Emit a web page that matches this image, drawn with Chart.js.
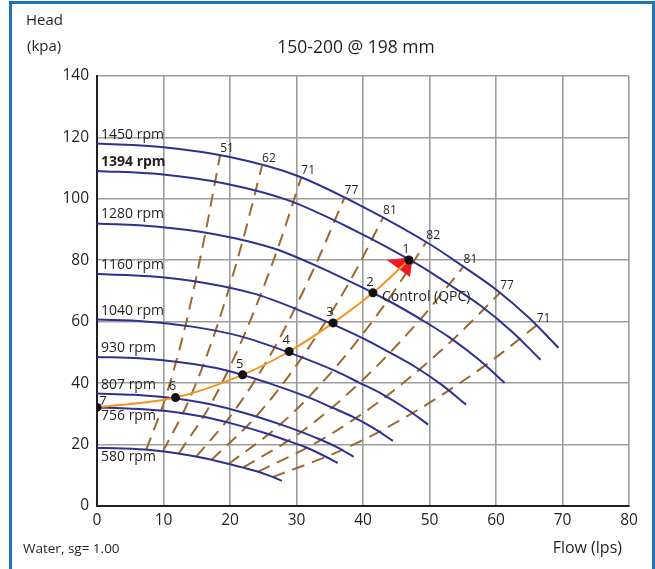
<!DOCTYPE html>
<html><head><meta charset="utf-8">
<script src="https://cdn.jsdelivr.net/npm/chart.js@4.4.1/dist/chart.umd.min.js"></script>
<style>
html,body{margin:0;padding:0;background:#fff;overflow:hidden}
#wrap{position:relative;width:655px;height:569px}
#frame{position:absolute;left:9px;top:1px;width:646px;height:620px;border:3px solid #1c75bc;box-sizing:border-box}
canvas{position:absolute;left:0;top:0}
</style></head>
<body><div id="wrap"><div id="frame"></div><canvas id="c" width="655" height="569"></canvas></div>
<script>
// ---- axis ticks ----
const flowTicks = [0,10,20,30,40,50,60,70,80];
const headTicks = [0,20,40,60,80,100,120,140];

// ---- pump curves (flow lps, head kPa) ----
const speeds = [1450,1394,1280,1160,1040,930,807,756,580];
const q1450 = [0,10,20,30,40,50,55,60,65,69.4];
const h1450 = [118,116.8,113.6,107.6,97.4,85.3,78.1,70.5,61.2,51.5];
const q1394 = [0,9.6,19.2,28.8,38.5,48.1,52.9,57.7,62.5,66.7];
const h1394 = [109.1,108.0,105.0,99.5,90.0,78.8,72.2,65.2,56.6,47.6];
const q1280 = [0,8.8,17.7,26.5,35.3,44.1,48.6,53.0,57.4,61.3];
const h1280 = [92.0,91.0,88.5,83.9,75.9,66.5,60.9,54.9,47.7,40.1];
const q1160 = [0,8,16,24,32,40,44,48,52,55.5];
const h1160 = [75.5,74.8,72.7,68.9,62.3,54.6,50.0,45.1,39.2,33.0];
const q1040 = [0,7.2,14.3,21.5,28.7,35.9,39.4,43.0,46.6,49.8];
const h1040 = [60.7,60.1,58.4,55.3,50.1,43.9,40.2,36.3,31.5,26.5];
const q930 = [0,6.4,12.8,19.2,25.7,32.1,35.3,38.5,41.7,44.5];
const h930 = [48.5,48.1,46.7,44.3,40.1,35.1,32.1,29.0,25.2,21.2];
const q807 = [0,5.6,11.1,16.7,22.3,27.8,30.6,33.4,36.2,38.6];
const h807 = [36.6,36.2,35.2,33.3,30.2,26.4,24.2,21.8,19.0,16.0];
const q756 = [0,5.2,10.4,15.6,20.9,26.1,28.7,31.3,33.9,36.2];
const h756 = [32.1,31.7,30.9,29.2,26.5,23.2,21.2,19.2,16.6,14.0];
const q580 = [0,4,8,12,16,20,22,24,26,27.8];
const h580 = [18.9,18.7,18.2,17.2,15.6,13.6,12.5,11.3,9.8,8.2];

// ---- iso-efficiency lines (%), bottom -> top ----
const effLabels = [51,62,71,77,81,82,81,77,71];
const effQ1 = [7.4,10.3,13.3,16.3,18.5];   const effH1 = [18.3,35.3,58.7,88.9,114.1];
const effQ2 = [9.9,13.8,17.8,21.9,24.8];   const effH2 = [17.7,34.3,56.9,86.3,110.7];
const effQ3 = [12.3,17.1,22.0,27.1,30.7];  const effH3 = [17.1,33.1,55.0,83.3,106.9];
const effQ4 = [14.9,20.7,26.7,32.8,37.2];  const effH4 = [16.0,31.1,51.6,78.2,100.3];
const effQ5 = [17.2,23.9,30.8,38.0,43.0];  const effH5 = [15.0,29.1,48.3,73.1,93.8];
const effQ6 = [19.8,27.6,35.5,43.7,49.5];  const effH6 = [13.7,26.6,44.2,66.9,85.9];
const effQ7 = [22.0,30.7,39.5,48.6,55.1];  const effH7 = [12.5,24.1,40.1,60.7,77.9];
const effQ8 = [24.2,33.7,43.5,53.5,60.6];  const effH8 = [11.1,21.5,35.7,54.1,69.4];
const effQ9 = [26.4,36.8,47.4,58.4,66.1];  const effH9 = [9.4,18.2,30.2,45.8,58.8];

// ---- control (QPC) operating points ----
const ctrlLabels = ['7','6','5','4','3','2','1'];
const ctrlQ = [0,11.8,21.9,28.9,35.5,41.5,46.9];
const ctrlH = [32.1,35.3,42.7,50.3,59.6,69.4,80.1];

const zip = (xs, ys) => xs.map((x,i)=>({x:x, y:ys[i]}));
const pumpQ = [q1450,q1394,q1280,q1160,q1040,q930,q807,q756,q580];
const pumpH = [h1450,h1394,h1280,h1160,h1040,h930,h807,h756,h580];
const effQ = [effQ1,effQ2,effQ3,effQ4,effQ5,effQ6,effQ7,effQ8,effQ9];
const effH = [effH1,effH2,effH3,effH4,effH5,effH6,effH7,effH8,effH9];

const BLUE = '#2e3192', BROWN = '#9c6a2f', ORANGE = '#f7941d', TXT = '#231f20';
const FONT = '"Open Sans", "Noto Sans", sans-serif';

const datasets = [];
datasets.push({
  label: 'Control (QPC)', data: zip(ctrlQ, ctrlH), borderColor: ORANGE, borderWidth: 2,
  pointRadius: 4.5, pointBackgroundColor: '#111', pointBorderColor: '#111', pointBorderWidth: 0,
  cubicInterpolationMode: 'monotone', order: 0
});
speeds.forEach((s,i)=>datasets.push({
  label: s + ' rpm', data: zip(pumpQ[i], pumpH[i]), borderColor: BLUE, borderWidth: 2,
  pointRadius: 0, cubicInterpolationMode: 'monotone', order: 1
}));
effLabels.forEach((e,i)=>datasets.push({
  label: 'eff ' + e, data: zip(effQ[i], effH[i]), borderColor: BROWN, borderWidth: 2,
  borderDash: [13,8], pointRadius: 0, cubicInterpolationMode: 'monotone', order: 2
}));

const textPlugin = {
  id: 'texts',
  beforeDatasetDraw(chart, args) {
    if (args.index !== 0) return;
    const xs = chart.scales.x, ys = chart.scales.y, c = chart.ctx;
    const n = ctrlQ.length - 1;
    const px = xs.getPixelForValue(ctrlQ[n]), py = ys.getPixelForValue(ctrlH[n]);
    c.save();
    c.fillStyle = '#ed1c24';
    c.beginPath();
    c.moveTo(px - 22, py);
    c.lineTo(px + 4, py - 3);
    c.lineTo(px + 1, py + 17);
    c.closePath();
    c.fill();
    c.restore();
  },
  afterDraw(chart) {
    const c = chart.ctx, xs = chart.scales.x, ys = chart.scales.y, a = chart.chartArea;
    c.save();
    c.fillStyle = TXT;
    c.textBaseline = 'middle';
    // headings
    c.textAlign = 'left';
    c.font = '15px ' + FONT;
    c.fillText('Head', 26, 21);
    c.fillText('(kpa)', 27, 47);
    c.textAlign = 'center';
    c.font = '17.5px ' + FONT;
    c.fillText('150-200 @ 198 mm', (a.left + a.right) / 2 - 7, 48);
    c.textAlign = 'left';
    c.font = '13.5px ' + FONT;
    c.fillText('Water, sg= 1.00', 23, 549);
    c.textAlign = 'right';
    c.font = '16px ' + FONT;
    c.fillText('Flow (lps)', 622, 548);
    // rpm labels
    c.textAlign = 'left';
    speeds.forEach((s,i)=>{
      c.font = (s === 1394 ? '700 ' : '') + '14px ' + FONT;
      const y = ys.getPixelForValue(pumpH[i][0]);
      const off = (s === 756 || s === 580) ? 9 : -9;
      c.fillText(s + ' rpm', xs.getPixelForValue(0) + 4, y + off);
    });
    // efficiency labels
    c.textAlign = 'center';
    c.font = '12px ' + FONT;
    effLabels.forEach((e,i)=>{
      const k = effQ[i].length - 1;
      c.fillText(String(e), xs.getPixelForValue(effQ[i][k]) + 7, ys.getPixelForValue(effH[i][k]) - 7);
    });
    // control point numbers
    c.font = '13px ' + FONT;
    ctrlLabels.forEach((t,i)=>{
      const x = xs.getPixelForValue(ctrlQ[i]), y = ys.getPixelForValue(ctrlH[i]);
      if (t === '7') c.fillText(t, x + 6, y - 6);
      else c.fillText(t, x - 3, y - 11);
    });
    c.textAlign = 'left';
    c.font = '14px ' + FONT;
    c.fillText('Control (QPC)', xs.getPixelForValue(ctrlQ[5]) + 9, ys.getPixelForValue(ctrlH[5]) + 4);
    c.restore();
  }
};

new Chart(document.getElementById('c'), {
  type: 'line',
  data: { datasets },
  options: {
    responsive: false, animation: false, devicePixelRatio: 1,
    layout: { padding: { top: 76, right: 26, left: 0, bottom: 0 } },
    plugins: { legend: { display: false }, tooltip: { enabled: false } },
    elements: { line: { tension: 0 } },
    scales: {
      x: {
        type: 'linear', min: 0, max: 80,
        afterBuildTicks: s => { s.ticks = flowTicks.map(v => ({ value: v })); },
        afterFit: s => { s.height = 63; },
        grid: { color: '#9d9d9d', lineWidth: 1.6, drawTicks: false },
        border: { color: TXT, width: 2 },
        ticks: { color: TXT, font: { family: FONT, size: 15.5 }, padding: 5, maxRotation: 0 }
      },
      y: {
        type: 'linear', min: 0, max: 140,
        afterBuildTicks: s => { s.ticks = headTicks.map(v => ({ value: v })); },
        afterFit: s => { s.width = 97; },
        grid: { color: '#9d9d9d', lineWidth: 1.6, drawTicks: false },
        border: { color: TXT, width: 2 },
        ticks: { color: TXT, font: { family: FONT, size: 15.5 }, padding: 8 }
      }
    }
  },
  plugins: [textPlugin]
});
</script>
</body></html>
